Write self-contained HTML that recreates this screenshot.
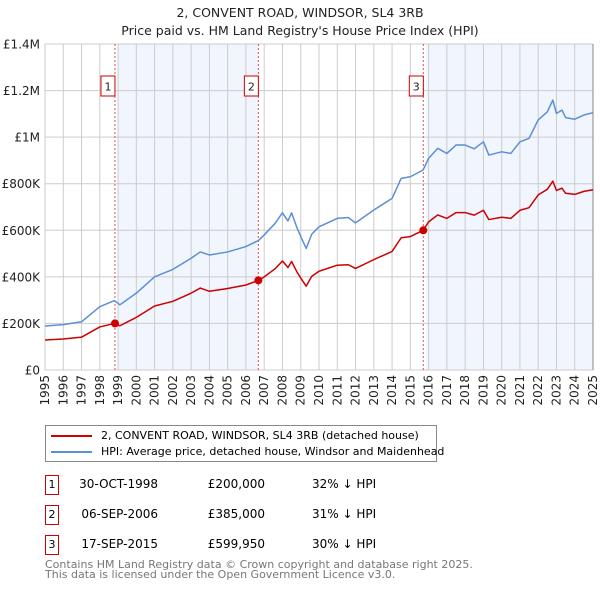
<!DOCTYPE html>
<html><head><meta charset="utf-8">
<style>
body{margin:0;background:#fff;font-family:"DejaVu Sans","Liberation Sans",sans-serif;}
#wrap{position:relative;width:600px;height:590px;overflow:hidden;}
.t{position:absolute;font-size:12px;color:#000;white-space:nowrap;}
</style></head><body>
<div id="wrap">
<svg id="chart" width="600" height="410" style="position:absolute;left:0;top:0"></svg>
<div style="position:absolute;left:45px;top:425px;width:392px;height:37px;border:1px solid #888;box-sizing:border-box;">
 <div style="position:absolute;left:5px;top:3px;font-size:11px;white-space:nowrap;"><span style="display:inline-block;width:41px;height:2px;background:#cc0000;vertical-align:middle;margin-right:9px"></span>2, CONVENT ROAD, WINDSOR, SL4 3RB (detached house)</div>
 <div style="position:absolute;left:5px;top:19px;font-size:11px;white-space:nowrap;"><span style="display:inline-block;width:41px;height:2px;background:#5b8fd6;vertical-align:middle;margin-right:9px"></span>HPI: Average price, detached house, Windsor and Maidenhead</div>
</div>
<div id="rows"></div>
<div class="t" style="left:45px;top:560px;font-size:11px;color:#777;line-height:10px">Contains HM Land Registry data © Crown copyright and database right 2025.<br>This data is licensed under the Open Government Licence v3.0.</div>
</div>
<script>
const NS="http://www.w3.org/2000/svg";
const svg=document.getElementById('chart');
const years=[1995,1996,1997,1998,1998.8,1999.1,2000,2001,2002,2003,2003.5,2004,2005,2006,2006.7,2007,2007.6,2008,2008.3,2008.5,2008.8,2009,2009.3,2009.6,2010,2011,2011.6,2012,2013,2014,2014.5,2015,2015.7,2016,2016.5,2017,2017.5,2018,2018.5,2019,2019.3,2020,2020.5,2021,2021.5,2022,2022.5,2022.8,2023,2023.3,2023.5,2024,2024.5,2025];
const hpi=[189,195,207,272,298,280,330,400,432,480,507,494,507,530,557,580,630,675,640,675,610,573,522,583,615,651,655,632,687,737,823,830,859,909,952,930,966,966,950,980,923,937,930,980,995,1074,1109,1159,1102,1116,1084,1077,1095,1105];
const paid=[129,133,141,185,200,190,226,275,295,330,352,338,350,365,385,400,435,468,440,466,420,395,360,402,424,450,452,436,474,509,568,573,600,636,666,651,676,676,665,686,646,656,651,686,697,752,776,811,771,781,759,754,767,774];
const tickVals=[0,200,400,600,800,1000,1200,1400];
const tickLabels=['£0','£200K','£400K','£600K','£800K','£1M','£1.2M','£1.4M'];
const saleYears=[1998.83,2006.68,2015.71];
const saleVals=[200,385,599.95];
const saleLabels=['1','2','3'];
const saleDates=['30-OCT-1998','06-SEP-2006','17-SEP-2015'];
const salePrices=['£200,000','£385,000','£599,950'];
const salePct=['32% ↓ HPI','31% ↓ HPI','30% ↓ HPI'];
const X0=45,X1=593,Y0=370,Y1=44;
const xs=y=>X0+(y-1995)/30*(X1-X0);
const ys=v=>Y0-v/1400*(Y0-Y1);
function el(t,a,p){const e=document.createElementNS(NS,t);for(const k in a)e.setAttribute(k,a[k]);(p||svg).appendChild(e);return e;}
for(let i=0;i<saleYears.length;i++){
 if(i%2===0){const a=xs(saleYears[i]),b=i+1<saleYears.length?xs(saleYears[i+1]):X1;
 const r=el('rect',{x:a+3,y:Y1,width:b-a-3,height:Y0-Y1,fill:'#eef3fc',opacity:0.8});
 
 }
}
for(let y=1995;y<=2025;y++){
 const l=el('line',{x1:xs(y),x2:xs(y),y1:Y1,y2:Y0,stroke:'#ccc','stroke-width':1});
 
 
 const t=el('text',{x:0,y:0,transform:`translate(${xs(y)+4},${Y0+5}) rotate(-90)`,'text-anchor':'end','font-size':12,fill:'#222','font-family':'DejaVu Sans, sans-serif'});
 t.textContent=y;
 
 
}
tickVals.forEach((v,i)=>{
 const l=el('line',{x1:X0,x2:X1,y1:ys(v),y2:ys(v),stroke:'#ccc','stroke-width':1});
 
 
 const t=el('text',{x:40,y:ys(v)+4.5,'text-anchor':'end','font-size':12,fill:'#222','font-family':'DejaVu Sans, sans-serif'});
 t.textContent=tickLabels[i];
 
 
});
const ax=el('line',{x1:X1,x2:X1,y1:Y1,y2:Y0,stroke:'#888'});


saleYears.forEach((s,i)=>{
 const l=el('line',{x1:xs(s),x2:xs(s),y1:Y1,y2:Y0,stroke:'#e05050','stroke-dasharray':'2,2','stroke-width':1});
 
 
 const g=el('g',{});
 
 
 el('rect',{x:xs(s)-14,y:76,width:14,height:20,fill:'#fff',stroke:'#cc0000'},g);
 const t=el('text',{x:xs(s)-7,y:90.5,'text-anchor':'middle','font-size':11,fill:'#222','font-family':'DejaVu Sans, sans-serif'},g);t.textContent=saleLabels[i];
});
function line(vals,color,name){
 const p=el('polyline',{points:years.map((y,i)=>xs(y)+','+ys(vals[i])).join(' '),fill:'none',stroke:color,'stroke-width':1.5,'stroke-linejoin':'round'});
 
 
}
line(hpi,'#5b8fd6','hpi-line');
line(paid,'#cc0000','price-paid-line');
saleYears.forEach((s,i)=>{
 const c=el('circle',{cx:xs(s),cy:ys(saleVals[i]),r:4,fill:'#cc0000'});
 
 
});
const tt=el('text',{x:300,y:17,'text-anchor':'middle','font-size':12.5,fill:'#222','font-family':'DejaVu Sans, sans-serif'});tt.textContent='2, CONVENT ROAD, WINDSOR, SL4 3RB';


const st=el('text',{x:300,y:35,'text-anchor':'middle','font-size':12.5,fill:'#222','font-family':'DejaVu Sans, sans-serif'});st.textContent="Price paid vs. HM Land Registry's House Price Index (HPI)";


const rows=document.getElementById('rows');
saleYears.forEach((s,i)=>{
 const top=475+i*30;
 const r=document.createElement('div');
 
 
 r.innerHTML=`<div style="position:absolute;left:45px;top:${top}px;width:14px;height:20px;border:1px solid #cc0000;box-sizing:border-box;font-size:11px;text-align:center;line-height:18px">${saleLabels[i]}</div>
 <div class="t" style="left:60px;width:98px;text-align:right;top:${top+2}px">${saleDates[i]}</div>
 <div class="t" style="left:180px;width:85px;text-align:right;top:${top+2}px">${salePrices[i]}</div>
 <div class="t" style="left:312px;top:${top+2}px">${salePct[i]}</div>`;
 rows.appendChild(r);
});
</script>
</body></html>
